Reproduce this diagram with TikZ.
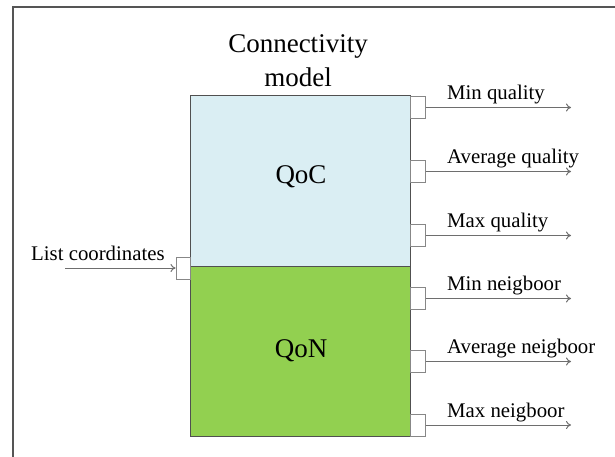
\documentclass[tikz,border=0pt]{standalone}
\usepackage{fontspec}
\setmainfont{Liberation Serif}
\usetikzlibrary{arrows.meta}
\definecolor{frameclr}{RGB}{85,85,85}
\definecolor{qocfill}{RGB}{218,238,243}
\definecolor{qonfill}{RGB}{146,208,80}
\definecolor{boxline}{RGB}{80,80,80}
\definecolor{portline}{RGB}{135,135,135}
\definecolor{arrowclr}{RGB}{110,110,110}
\begin{document}
\begin{tikzpicture}[x=1pt,y=-1pt,
  part/.style={draw=boxline,line width=1pt,minimum width=220pt,minimum height=170pt,
    inner sep=0pt,font=\fontsize{27}{32}\selectfont},
  port/.style={draw=portline,fill=white,line width=1pt,minimum width=15pt,
    minimum height=22pt,inner sep=0pt},
  sig/.style={draw=arrowclr,line width=1pt,-{To[length=5pt,width=8pt]}},
  lbl/.style={anchor=base west,inner sep=0pt,font=\fontsize{20.8}{24}\selectfont}]
\useasboundingbox (0,0) rectangle (615,457);
% outer frame edges
\draw[frameclr,line width=1.2pt] (13,457) -- (13,7) -- (615,7);
% title
\node[align=center,font=\fontsize{27}{34}\selectfont] (title) at (298,61) {Connectivity\\model};
% the two halves of the model
\node[part,fill=qocfill] (qoc) at (300,181) {};
\node[part,fill=qonfill] (qon) at (300,351) {};
\node at (301,177) {\fontsize{27}{32}\selectfont QoC};
\node at (301,351) {\fontsize{27}{32}\selectfont QoN};
% input port
\node[port,minimum width=14pt] (pin) at (183,268) {};
\coordinate (src) at (65,268);
\draw[sig] (src) -- (pin.west);
\node[lbl] (lin) at (31,260) {List coordinates};
% output ports
\foreach \i/\y/\t in {1/107.5/Min quality,2/171.5/Average quality,3/235.5/Max quality,
                      4/298.5/Min neigboor,5/361.5/Average neigboor,6/425/Max neigboor}{
  \node[port] (p\i) at (417.5,\y) {};
  \coordinate (o\i) at (571,\y);
  \draw[sig] (p\i.east) -- (o\i);
  \node[lbl] (l\i) at (447,\y-8) {\t};
}
\end{tikzpicture}
\end{document}
